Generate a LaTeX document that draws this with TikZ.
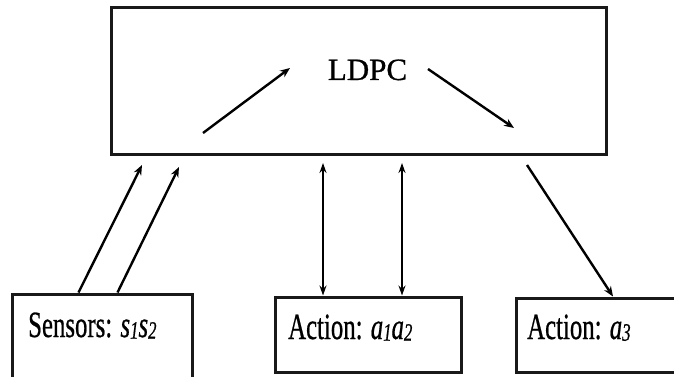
\documentclass[tikz,border=0pt]{standalone}
\usepackage{fontspec}
\setmainfont{Liberation Serif}
\newfontfamily\lblfont[FakeBold=0.8]{Liberation Serif}
\usetikzlibrary{arrows.meta}
\tikzset{
  blk/.style={draw=black!90, line width=3pt, rectangle, inner sep=0pt},
  arr/.style={line width=2.4pt, -{Stealth[length=10pt,width=8pt]}},
  darr/.style={line width=2.2pt, {Stealth[length=10pt,width=7pt]}-{Stealth[length=10pt,width=7pt]}},
  lbl/.style={inner sep=0pt, anchor=base west, font=\lblfont\fontsize{37}{39}\selectfont},
}
% horizontally condensed label text
\newcommand{\narrow}[1]{\scalebox{0.67}[1]{#1}}
% enlarged italic subscript
\newcommand{\sbx}[1]{\raisebox{-0.1ex}{\fontsize{25}{25}\selectfont\textit{#1}}}
\begin{document}
\begin{tikzpicture}[x=1pt, y=-1pt]
  \useasboundingbox (0,0) rectangle (674,377);

  % boxes
  \node[blk, minimum width=495pt, minimum height=146pt] (ldpc) at (358.5,81) {};
  \node[blk, minimum width=180pt, minimum height=100pt] (sens) at (102,344) {};
  \node[blk, minimum width=186pt, minimum height=75pt] (act12) at (368,334.5) {};
  \node[blk, minimum width=180pt, minimum height=74pt] (act3) at (606,335) {};

  % labels
  \node[inner sep=0pt, anchor=base, font=\lblfont\fontsize{31}{33}\selectfont] (ldpctxt) at (367.5,80) {LDPC};
  \node[lbl] (senstxt) at (28,337) {\narrow{Sensors: \textit{s}\sbx{1}\textit{s}\sbx{2}}};
  \node[lbl] (act12txt) at (288,339) {\narrow{Action: \textit{a}\sbx{1}\textit{a}\sbx{2}}};
  \node[lbl] (act3txt) at (527,339) {\narrow{Action: \textit{a}\sbx{3}}};

  % free arrow ends
  \coordinate (s1end) at (142,165);
  \coordinate (s2end) at (179,167);
  \coordinate (v1top) at (323,163);
  \coordinate (v2top) at (402,163);
  \coordinate (a3start) at (527,165);
  \coordinate (inA) at (203,133);
  \coordinate (inB) at (290,68);
  \coordinate (inC) at (428,69);
  \coordinate (inD) at (514,128);

  % sensor inputs
  \draw[arr] (sens.north west) ++(68,0) coordinate (s1start) -- (s1end);
  \draw[arr] (sens.north west) ++(107,0) coordinate (s2start) -- (s2end);

  % two-way links to the actions a1 a2
  \draw[darr] (v1top) -- (v1top |- act12.north);
  \draw[darr] (v2top) -- (v2top |- act12.north);

  % output to action a3
  \draw[arr] (a3start) -- (613,0 |- act3.north);

  % flow inside the LDPC block
  \draw[arr] (inA) -- (inB);
  \draw[arr] (inC) -- (inD);
\end{tikzpicture}
\end{document}
